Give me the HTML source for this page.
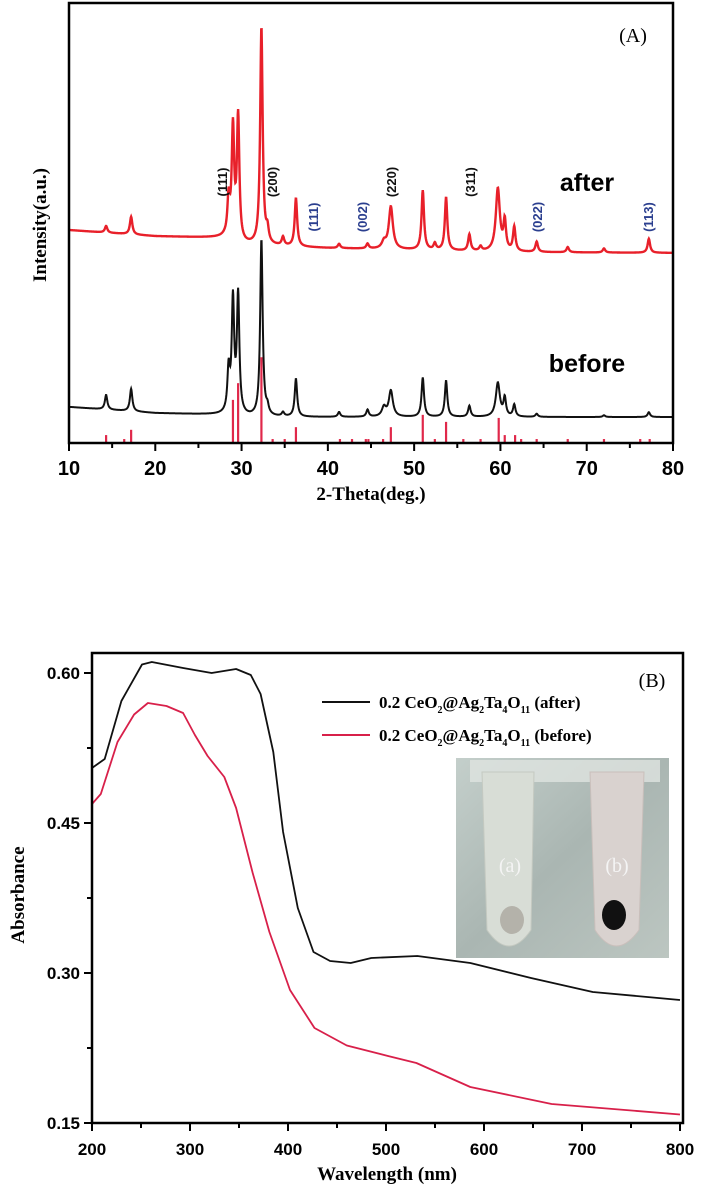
<!DOCTYPE html>
<html><head><meta charset="utf-8"><style>
html,body{margin:0;padding:0;background:#fff;}
svg{display:block;}
.t{font-family:"Liberation Sans",sans-serif;font-weight:bold;}
.s{font-family:"Liberation Serif",serif;font-weight:bold;}
</style></head><body>
<svg id="fig" width="702" height="1188" viewBox="0 0 702 1188" xmlns="http://www.w3.org/2000/svg">
<g id="pa"></g>
<g id="pb"></g>
</svg>
<script>
// ---------- Panel A data ----------
const xrdTicks = [10,20,30,40,50,60,70,80];
const redBaseX = [10,20,28,30,40,60,80];
const redBaseV = [484,470,466,450,443,434,432];
const redPeakPos = [14.3,17.2,28.5,29.0,29.6,32.3,33.0,34.8,36.3,41.3,44.6,46.5,47.3,51.0,52.4,53.7,56.4,57.7,59.7,60.5,61.6,64.2,67.8,72.0,77.2];
const redPeakTop = [493,514,548,709,736,943,477,466,555,452,452,455,536,573,452,557,473,445,577,500,489,457,445,442,464];
const blkBaseX = [10,20,28,31,40,60,80];
const blkBaseV = [82,68,64,59,59,59,59];
const blkPeakPos = [14.3,17.2,28.5,29.0,29.6,32.3,33.0,34.8,36.3,41.3,44.6,46.5,47.3,51.0,53.7,56.4,59.7,60.5,61.6,64.2,72.0,77.2];
const blkPeakTop = [109,123,159,318,330,461,75,68,145,70,75,80,118,148,141,84,136,100,86,66,63,70];
const stickPos = [14.3,16.4,17.2,29.0,29.6,32.3,33.6,35.0,36.3,41.4,42.8,44.4,44.7,46.4,47.3,51.0,52.4,53.7,55.7,57.7,59.8,60.5,61.7,62.4,64.2,67.8,72.0,76.2,77.3];
const stickVal = [18,9,30,98,136,195,9,9,36,9,9,9,9,9,36,64,9,48,9,9,57,18,18,9,9,9,9,9,9];
// ---------- Panel B data ----------
const wlTicks = [200,300,400,500,600,700,800];
const absTicks = [0.15,0.30,0.45,0.60];
const absTickLabels = ["0.15","0.30","0.45","0.60"];
const afterWl = [200,213,230,251,261,293,322,347,362,372,385,395,410,426,443,464,485,532,586,648,711,800];
const afterAbs = [0.505,0.514,0.572,0.6085,0.611,0.605,0.600,0.604,0.598,0.579,0.521,0.441,0.365,0.321,0.312,0.310,0.315,0.317,0.310,0.295,0.281,0.273];
const beforeWl = [200,209,226,243,257,276,293,305,318,335,347,364,381,402,427,460,502,531,586,669,800];
const beforeAbs = [0.469,0.479,0.531,0.5585,0.570,0.567,0.560,0.538,0.517,0.496,0.465,0.400,0.341,0.283,0.245,0.2275,0.217,0.210,0.186,0.169,0.1585];

const NS="http://www.w3.org/2000/svg";
function mk(parent,tag,attrs,text){const e=document.createElementNS(NS,tag);for(const k in attrs)e.setAttribute(k,attrs[k]);if(text!==undefined)e.textContent=text;parent.appendChild(e);return e;}
function interp(xs,vs,x){if(x<=xs[0])return vs[0];for(let i=1;i<xs.length;i++){if(x<=xs[i]){const t=(x-xs[i-1])/(xs[i]-xs[i-1]);return vs[i-1]+t*(vs[i]-vs[i-1]);}}return vs[vs.length-1];}

// Panel A axes
const A={x0:69,x1:673,y0:443,y1:3};
const ax=d=>A.x0+(d-10)/70*(A.x1-A.x0);
const ay=v=>A.y0-v*0.44;
const pa=document.getElementById('pa');
function xrdPath(bx,bv,pp,pt){
  let d="";
  for(let x=10;x<=80.0001;x+=0.04){
    let v=interp(bx,bv,x);
    for(let i=0;i<pp.length;i++){const w=(pp[i]>46&&pp[i]<48||pp[i]>59&&pp[i]<60.2)?0.28:0.17;const a=pt[i]-interp(bx,bv,pp[i]);const u=(x-pp[i])/w;v+=a/(1+u*u);}
    d+=(d?"L":"M")+ax(x).toFixed(2)+","+ay(v).toFixed(2);
  }
  return d;
}
let e;
e=mk(pa,'path',{d:xrdPath(redBaseX,redBaseV,redPeakPos,redPeakTop),fill:'none',stroke:'#e8202a','stroke-width':2.4});


e=mk(pa,'path',{d:xrdPath(blkBaseX,blkBaseV,blkPeakPos,blkPeakTop),fill:'none',stroke:'#111','stroke-width':2});


for(let i=0;i<stickPos.length;i++){
  e=mk(pa,'line',{x1:ax(stickPos[i]),x2:ax(stickPos[i]),y1:ay(0),y2:ay(stickVal[i]),stroke:'#e0284a','stroke-width':2.2});
  
  
}
e=mk(pa,'rect',{x:A.x0,y:A.y1,width:A.x1-A.x0,height:A.y0-A.y1,fill:'none',stroke:'#000','stroke-width':2.5});


for(let d=10;d<=80;d+=5){
  const maj=d%10===0;
  mk(pa,'line',{x1:ax(d),x2:ax(d),y1:A.y0,y2:A.y0+(maj?8:5),stroke:'#000','stroke-width':2});
}
xrdTicks.forEach(d=>{e=mk(pa,'text',{x:ax(d),y:475,'text-anchor':'middle','font-size':20,class:'t'},String(d));
  
  });
e=mk(pa,'text',{x:371,y:500,'text-anchor':'middle','font-size':19,class:'s'},'2-Theta(deg.)');


e=mk(pa,'text',{x:0,y:0,'text-anchor':'middle','font-size':19,class:'s',transform:'translate(46,225) rotate(-90)'},'Intensity(a.u.)');


e=mk(pa,'text',{x:633,y:42,'text-anchor':'middle','font-size':20,'font-family':'Liberation Serif, serif'},'(A)');


e=mk(pa,'text',{x:587,y:191,'text-anchor':'middle','font-size':25,class:'t'},'after');


e=mk(pa,'text',{x:587,y:372,'text-anchor':'middle','font-size':25,class:'t'},'before');


const hkl=[["(111)",222,182,'#111'],["(200)",272,182,'#111'],["(111)",313,217,'#2b3f8f'],["(002)",362,217,'#2b3f8f'],["(220)",391,182,'#111'],["(311)",470,182,'#111'],["(022)",537,217,'#2b3f8f'],["(113)",648,217,'#2b3f8f']];
hkl.forEach(h=>{e=mk(pa,'text',{x:0,y:0,'text-anchor':'middle','font-size':13,class:'t',fill:h[3],transform:`translate(${h[1]+5},${h[2]}) rotate(-90)`},h[0]);
  
  });

// Panel B
const B={x0:92,x1:683,y0:1123,y1:653};
const bx=w=>92+(w-200)*0.98;
const by=v=>1123-(v-0.15)*1000;
const pb=document.getElementById('pb');
function line(xs,vs){return xs.map((x,i)=>(i?"L":"M")+bx(x).toFixed(1)+","+by(vs[i]).toFixed(1)).join("");}
// inset photo
const ph=mk(pb,'g',{});


const defs=mk(pb,'defs',{});
const g1=mk(defs,'linearGradient',{id:'bg',x1:0,y1:0,x2:1,y2:1});
mk(g1,'stop',{offset:0,'stop-color':'#c4cfcb'});mk(g1,'stop',{offset:0.5,'stop-color':'#aab6b2'});mk(g1,'stop',{offset:1,'stop-color':'#bcc6c1'});
mk(ph,'rect',{x:456,y:758,width:213,height:200,fill:'url(#bg)'});
mk(ph,'rect',{x:470,y:760,width:190,height:22,fill:'#dfe4e0',opacity:0.8});
mk(ph,'path',{d:'M482,772 L534,772 L531,930 Q509,962 487,930 Z',fill:'#d8ddd6',stroke:'#c4c9c1'});
mk(ph,'path',{d:'M590,772 L644,772 L639,930 Q616,962 595,930 Z',fill:'#d9d2cf',stroke:'#c9bfbb'});
mk(ph,'ellipse',{cx:512,cy:920,rx:12,ry:14,fill:'#b4b2aa'});
mk(ph,'ellipse',{cx:614,cy:915,rx:12,ry:15,fill:'#111'});
mk(ph,'text',{x:510,y:872,'text-anchor':'middle','font-size':20,'font-family':'Liberation Serif, serif',fill:'#f4f4f4'},'(a)');
mk(ph,'text',{x:617,y:872,'text-anchor':'middle','font-size':20,'font-family':'Liberation Serif, serif',fill:'#f4f4f4'},'(b)');

e=mk(pb,'path',{d:line(afterWl,afterAbs),fill:'none',stroke:'#111','stroke-width':1.8,'stroke-linejoin':'round'});


e=mk(pb,'path',{d:line(beforeWl,beforeAbs),fill:'none',stroke:'#d8204a','stroke-width':1.8,'stroke-linejoin':'round'});


e=mk(pb,'rect',{x:B.x0,y:B.y1,width:B.x1-B.x0,height:B.y0-B.y1,fill:'none',stroke:'#000','stroke-width':2.5});


for(let w=200;w<=800;w+=50){const maj=w%100===0;mk(pb,'line',{x1:bx(w),x2:bx(w),y1:B.y0,y2:B.y0+(maj?8:5),stroke:'#000','stroke-width':2});}
wlTicks.forEach(w=>{e=mk(pb,'text',{x:bx(w),y:1155,'text-anchor':'middle','font-size':17,class:'t'},String(w));
  
  });
for(let v=0.15;v<=0.6001;v+=0.075){mk(pb,'line',{x1:B.x0,x2:B.x0-(Math.abs((v-0.15)/0.15-Math.round((v-0.15)/0.15))<0.01?8:5),y1:by(v),y2:by(v),stroke:'#000','stroke-width':2});}
absTicks.forEach((v,i)=>{e=mk(pb,'text',{x:80,y:by(v)+6,'text-anchor':'end','font-size':17,class:'t'},absTickLabels[i]);
  
  });
e=mk(pb,'text',{x:387,y:1180,'text-anchor':'middle','font-size':19,class:'s'},'Wavelength (nm)');


e=mk(pb,'text',{x:0,y:0,'text-anchor':'middle','font-size':19,class:'s',transform:'translate(24,895) rotate(-90)'},'Absorbance');


e=mk(pb,'text',{x:652,y:687,'text-anchor':'middle','font-size':20,'font-family':'Liberation Serif, serif'},'(B)');


function legend(y,color,tag,nm){
  const g=mk(pb,'g',{});
  
  
  mk(g,'line',{x1:322,x2:370,y1:y,y2:y,stroke:color,'stroke-width':2});
  const t=mk(g,'text',{x:379,y:y+6,'font-size':17,class:'s'});
  t.innerHTML='0.2 CeO<tspan font-size="10" dy="5">2</tspan><tspan dy="-5">@Ag</tspan><tspan font-size="10" dy="5">2</tspan><tspan dy="-5">Ta</tspan><tspan font-size="10" dy="5">4</tspan><tspan dy="-5">O</tspan><tspan font-size="10" dy="5">11</tspan><tspan dy="-5"> ('+tag+')</tspan>';
}
legend(702,'#111','after','legend-entry-after');
legend(735,'#d8204a','before','legend-entry-before');
</script>
</body></html>
